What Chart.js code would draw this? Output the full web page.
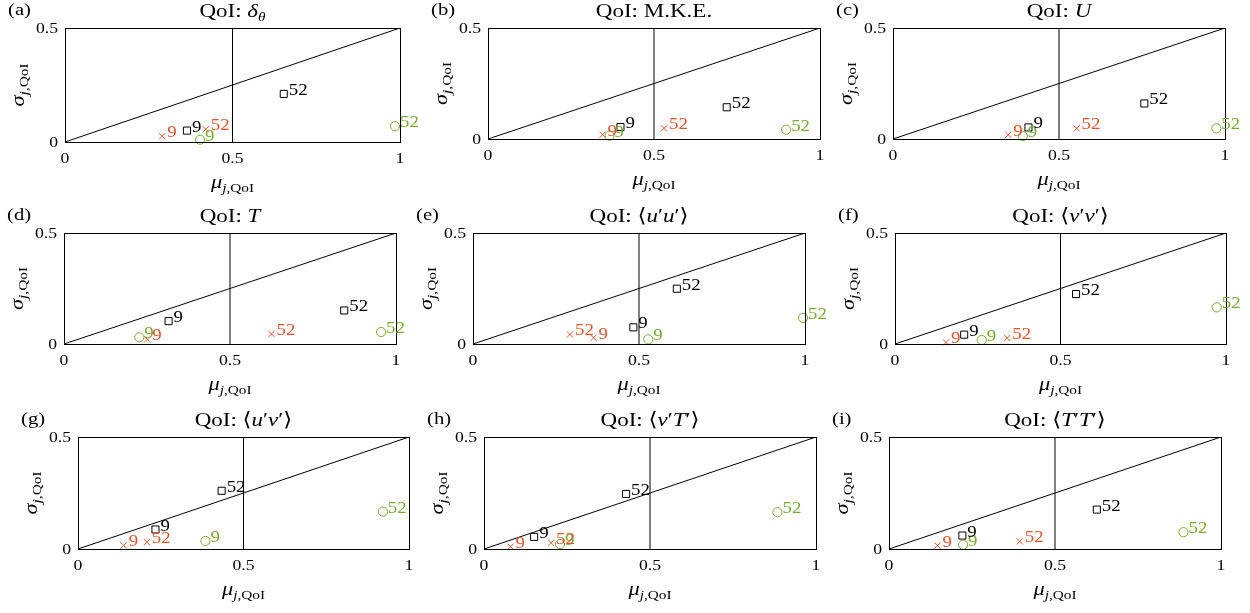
<!DOCTYPE html>
<html>
<head>
<meta charset="utf-8">
<script src="https://cdn.jsdelivr.net/npm/chart.js@4.4.0/dist/chart.umd.min.js"></script>
<style>
    html, body { margin: 0; padding: 0; background: #fff; }
    #wrap { position: relative; width: 1250px; height: 613px; overflow: hidden; }
    #wrap canvas { position: absolute; }
</style>
</head>
<body>
<div id="wrap"></div>
<script>
// panel letters and QoI titles (runs: r = upright, i = italic, is/rs = subscript)
const panelLetters = ['(a)', '(b)', '(c)', '(d)', '(e)', '(f)', '(g)', '(h)', '(i)'];
const titleRuns = [
    [['QoI: ', 'r'], ['δ', 'i'], ['θ', 'is']],
    [['QoI: M.K.E.', 'r']],
    [['QoI: ', 'r'], ['U', 'i']],
    [['QoI: ', 'r'], ['T', 'i']],
    [['QoI: ⟨', 'r'], ['u', 'i'], ['′', 'r'], ['u', 'i'], ['′⟩', 'r']],
    [['QoI: ⟨', 'r'], ['v', 'i'], ['′', 'r'], ['v', 'i'], ['′⟩', 'r']],
    [['QoI: ⟨', 'r'], ['u', 'i'], ['′', 'r'], ['v', 'i'], ['′⟩', 'r']],
    [['QoI: ⟨', 'r'], ['v', 'i'], ['′', 'r'], ['T', 'i'], ['′⟩', 'r']],
    [['QoI: ⟨', 'r'], ['T', 'i'], ['′', 'r'], ['T', 'i'], ['′⟩', 'r']]
];
const xLabelRuns = [['μ', 'i'], ['j', 'is'], [',QoI', 'rs']];
const yLabelRuns = [['σ', 'i'], ['j', 'is'], [',QoI', 'rs']];

const pointLabels = ['9', '52'];
const xTicks = [0, 0.5, 1];
const yTicks = [0, 0.5];

// reference lines
const diagX = [0, 1];
const diagY = [0, 0.5];
const midX = [0.5, 0.5];
const midY = [0, 0.5];

// black squares, [label 9, label 52] per panel
const squareX = [[0.364, 0.653], [0.399, 0.719], [0.408, 0.757], [0.315, 0.844], [0.483, 0.614], [0.209, 0.547], [0.234, 0.434], [0.151, 0.428], [0.221, 0.626]];
const squareY = [[0.050, 0.211], [0.054, 0.143], [0.052, 0.160], [0.103, 0.151], [0.075, 0.249], [0.042, 0.225], [0.087, 0.260], [0.054, 0.246], [0.060, 0.176]];
// red crosses
const crossX = [[0.290, 0.420], [0.345, 0.530], [0.347, 0.553], [0.251, 0.625], [0.363, 0.292], [0.154, 0.339], [0.138, 0.208], [0.080, 0.202], [0.146, 0.394]];
const crossY = [[0.025, 0.056], [0.019, 0.048], [0.019, 0.048], [0.021, 0.045], [0.028, 0.043], [0.007, 0.027], [0.016, 0.031], [0.010, 0.028], [0.015, 0.034]];
// green circles
const circleX = [[0.403, 0.985], [0.366, 0.898], [0.391, 0.974], [0.227, 0.955], [0.528, 0.994], [0.262, 0.972], [0.385, 0.921], [0.229, 0.884], [0.223, 0.887]];
const circleY = [[0.010, 0.069], [0.015, 0.042], [0.013, 0.048], [0.030, 0.054], [0.021, 0.118], [0.018, 0.165], [0.036, 0.167], [0.022, 0.164], [0.019, 0.075]];

// plot area of each panel on the page: left, top, right, bottom
const panelBox = [
    [65, 28, 400, 142], [488, 28, 820, 139], [893, 28, 1225, 139],
    [64, 233, 396, 344], [473, 233, 805, 344], [895, 233, 1226, 344],
    [78, 437, 409, 549], [484, 437, 816, 549], [889, 437, 1221, 549]
];

const SERIF = "'Liberation Serif', 'DejaVu Serif', serif";
const SX = 1.18; // text in the original is a bit wider than Times
const RED = '#E2552B';
const GREEN = '#77AC30';
const padL = 70, padT = 32, padR = 34, padB = 60;

const toPts = (xs, ys) => xs.map((x, k) => ({ x: x, y: ys[k] }));

// single text with horizontal stretch; align: 'left' | 'center' | 'right'
function drawText(ctx, t, x, y, font, align) {
    ctx.font = font;
    const w = ctx.measureText(t).width * SX;
    const x0 = align === 'center' ? x - w / 2 : align === 'right' ? x - w : x;
    ctx.save();
    ctx.translate(x0, y);
    ctx.scale(SX, 1);
    ctx.textAlign = 'left';
    ctx.textBaseline = 'alphabetic';
    ctx.fillText(t, 0, 0);
    ctx.restore();
}

// list of text runs centred on cx, subscripts lowered
function drawRuns(ctx, runs, cx, y, size) {
    const sub = Math.round(size * 0.68);
    const fontOf = st => (st[0] === 'i' ? 'italic ' : '') + (st.endsWith('s') ? sub : size) + 'px ' + SERIF;
    let total = 0;
    const widths = runs.map(([t, st]) => {
        ctx.font = fontOf(st);
        const w = ctx.measureText(t).width * SX;
        total += w;
        return w;
    });
    let x = cx - total / 2;
    runs.forEach(([t, st], k) => {
        drawText(ctx, t, x, st.endsWith('s') ? y + size * 0.22 : y, fontOf(st), 'left');
        x += widths[k];
    });
}

const decor = {
    id: 'decor',
    afterDatasetsDraw(chart, args, opts) {
        const ctx = chart.ctx;
        const a = chart.chartArea;
        const i = opts.idx;
        const xs = chart.scales.x;
        const ys = chart.scales.y;
        ctx.save();
        // axes box
        ctx.strokeStyle = '#000';
        ctx.lineWidth = 1;
        ctx.strokeRect(Math.round(a.left) + 0.5, Math.round(a.top) + 0.5,
            Math.round(a.right - a.left), Math.round(a.bottom - a.top));

        // labels next to markers
        chart.data.datasets.forEach((ds, di) => {
            if (!ds.pointText) return;
            const meta = chart.getDatasetMeta(di);
            ctx.fillStyle = ds.borderColor;
            meta.data.forEach((pt, k) => {
                drawText(ctx, ds.pointText[k], pt.x + 5, pt.y + 1, '16px ' + SERIF, 'left');
            });
        });

        ctx.fillStyle = '#000';
        // tick labels
        const tickFont = '15px ' + SERIF;
        xTicks.forEach(v => drawText(ctx, String(v), xs.getPixelForValue(v), a.bottom + 21, tickFont, 'center'));
        yTicks.forEach(v => drawText(ctx, String(v), a.left - 7, ys.getPixelForValue(v) + 5, tickFont, 'right'));

        // panel letter and title
        drawText(ctx, panelLetters[i], a.left - 57, a.top - 13, '17.5px ' + SERIF, 'left');
        drawRuns(ctx, titleRuns[i], (a.left + a.right) / 2, a.top - 11, 19.5);

        // axis titles
        drawRuns(ctx, xLabelRuns, (a.left + a.right) / 2, a.bottom + 46, 19);
        ctx.translate(a.left - 41, (a.top + a.bottom) / 2);
        ctx.rotate(-Math.PI / 2);
        drawRuns(ctx, yLabelRuns, 0, 0, 19);
        ctx.restore();
    }
};

const wrap = document.getElementById('wrap');

panelBox.forEach((box, i) => {
    const [L, T, R, B] = box;
    const canvas = document.createElement('canvas');
    canvas.width = R - L + padL + padR;
    canvas.height = B - T + padT + padB;
    canvas.style.left = (L - padL) + 'px';
    canvas.style.top = (T - padT) + 'px';
    wrap.appendChild(canvas);

    const lineSet = (xs, ys) => ({
        type: 'line',
        data: toPts(xs, ys),
        borderColor: '#000',
        borderWidth: 1,
        pointRadius: 0,
        fill: false
    });

    const data = {
        datasets: [
            {
                type: 'scatter',
                data: toPts(circleX[i], circleY[i]),
                pointText: pointLabels,
                pointStyle: 'circle',
                pointRadius: 4.6,
                borderColor: GREEN,
                backgroundColor: 'rgba(0,0,0,0)',
                borderWidth: 1,
                clip: false
            },
            {
                type: 'scatter',
                data: toPts(crossX[i], crossY[i]),
                pointText: pointLabels,
                pointStyle: 'crossRot',
                pointRadius: 4.4,
                borderColor: RED,
                backgroundColor: RED,
                borderWidth: 1,
                clip: false
            },
            {
                type: 'scatter',
                data: toPts(squareX[i], squareY[i]),
                pointText: pointLabels,
                pointStyle: 'rect',
                pointRadius: 5,
                borderColor: '#000',
                backgroundColor: 'rgba(0,0,0,0)',
                borderWidth: 1,
                clip: false
            },
            lineSet(diagX, diagY),
            lineSet(midX, midY)
        ]
    };

    const config = {
        type: 'scatter',
        data: data,
        options: {
            responsive: false,
            animation: false,
            devicePixelRatio: 1,
            layout: {
                autoPadding: false,
                padding: { left: 0, top: padT, right: padR, bottom: 0 }
            },
            plugins: {
                legend: { display: false },
                tooltip: { enabled: false },
                decor: { idx: i }
            },
            scales: {
                x: {
                    type: 'linear',
                    min: 0,
                    max: 1,
                    afterFit: s => { s.height = padB; },
                    grid: { display: false, drawTicks: false },
                    border: { display: false },
                    ticks: { display: false }
                },
                y: {
                    type: 'linear',
                    min: 0,
                    max: 0.5,
                    afterFit: s => { s.width = padL; },
                    grid: { display: false, drawTicks: false },
                    border: { display: false },
                    ticks: { display: false }
                }
            }
        },
        plugins: [decor]
    };

    new Chart(canvas.getContext('2d'), config);
});
</script>
</body>
</html>
